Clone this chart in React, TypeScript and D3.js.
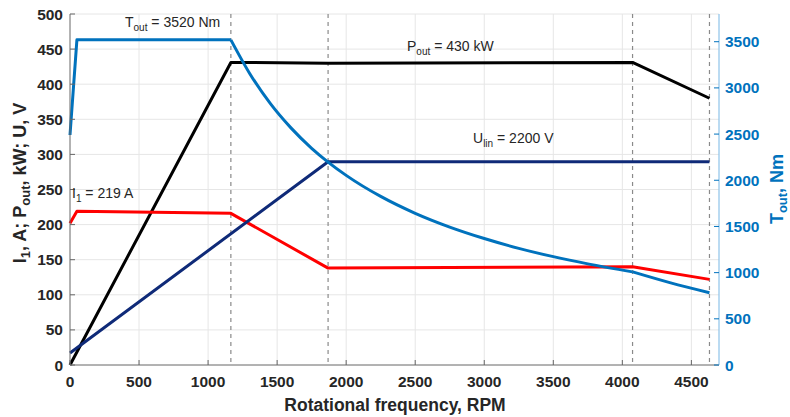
import * as d3 from "d3";

// rotational frequency points (RPM) and the curves
const rpmTorque = [0, 50, 1165, 1300, 1450, 1600, 1750, 1869, 2000, 2250, 2500, 2750, 3000, 3250, 3500, 3750, 4074, 4350, 4631];
const torqueVals = [2490, 3520, 3520, 3159, 2832, 2567, 2346, 2197, 2053, 1825, 1642, 1493, 1369, 1263, 1173, 1095, 1008, 889, 783];

const rpmPower = [0, 1165, 1869, 4074, 4631];
const powerVals = [0, 431, 430, 431, 380];

const rpmCurrent = [0, 50, 1165, 1869, 4074, 4631];
const currentVals = [202, 219, 216, 138, 140, 122];

const rpmVoltage = [0, 1869, 4631];
const voltageVals = [130, 2200, 2200];

const breakPoints = [1165, 1869, 4074, 4631];

const xTicks = [0, 500, 1000, 1500, 2000, 2500, 3000, 3500, 4000, 4500];
const leftTicks = [0, 50, 100, 150, 200, 250, 300, 350, 400, 450, 500];
const rightTicks = [0, 500, 1000, 1500, 2000, 2500, 3000, 3500];

const W = 790;
const H = 417;
const left = 70;
const right = 719;
const top = 14;
const bottom = 365;

const BLUE = "#0072BD";
const font = "'Liberation Sans', Arial, sans-serif";

export default function App() {
  const x = d3.scaleLinear().domain([0, 4700]).range([left, right]);
  const yL = d3.scaleLinear().domain([0, 500]).range([bottom, top]);
  const yR = d3.scaleLinear().domain([0, 3800]).range([bottom, top]);

  const lineL = (xs: number[], ys: number[]) =>
    d3.line<number>().x((d) => x(d)).y((d, i) => yL(ys[i]))(xs) || "";
  const lineR = (xs: number[], ys: number[], curve: d3.CurveFactory = d3.curveLinear) =>
    d3.line<number>().x((d) => x(d)).y((d, i) => yR(ys[i])).curve(curve)(xs) || "";

  // torque: straight until the corner, smooth hyperbola after it, straight tail
  const iCorner = rpmTorque.indexOf(1165);
  const iKnee = rpmTorque.indexOf(4074);
  const torqueHead = lineR(rpmTorque.slice(0, iCorner + 1), torqueVals.slice(0, iCorner + 1));
  const torqueMid = lineR(rpmTorque.slice(iCorner, iKnee + 1), torqueVals.slice(iCorner, iKnee + 1), d3.curveMonotoneX);
  const torqueTail = lineR(rpmTorque.slice(iKnee), torqueVals.slice(iKnee), d3.curveMonotoneX);

  return (
    <svg
      width={W}
      height={H}
      style={{ position: "absolute", left: 0, top: 0, background: "#fff" }}
      fontFamily={font}
    >
      {/* grid */}
      {xTicks.slice(1).map((t) => (
        <line key={"gx" + t} x1={x(t)} x2={x(t)} y1={top} y2={bottom} stroke="#e6e6e6" strokeWidth={1} />
      ))}
      {leftTicks.slice(1).map((t) => (
        <line key={"gy" + t} x1={left} x2={right} y1={yL(t)} y2={yL(t)} stroke="#e6e6e6" strokeWidth={1} />
      ))}

      {/* dashed break lines */}
      {breakPoints.map((b) => (
        <line key={"b" + b} x1={x(b)} x2={x(b)} y1={top} y2={bottom} stroke="#8a8a8a" strokeWidth={1.2} strokeDasharray="4,4" />
      ))}

      {/* curves */}
      <path d={lineL(rpmPower, powerVals)} fill="none" stroke="#000" strokeWidth={3} strokeLinejoin="round" />
      <path d={lineL(rpmCurrent, currentVals)} fill="none" stroke="#FF0000" strokeWidth={3} strokeLinejoin="round" />
      <path d={lineR(rpmVoltage, voltageVals)} fill="none" stroke="#0F2A78" strokeWidth={3} strokeLinejoin="round" />
      <path d={torqueHead} fill="none" stroke={BLUE} strokeWidth={3} strokeLinejoin="round" />
      <path d={torqueMid} fill="none" stroke={BLUE} strokeWidth={3} strokeLinejoin="round" />
      <path d={torqueTail} fill="none" stroke={BLUE} strokeWidth={3} strokeLinejoin="round" />

      {/* axes */}
      <line x1={left} x2={left} y1={top} y2={bottom} stroke="#666" strokeWidth={1} />
      <line x1={left} x2={right} y1={bottom} y2={bottom} stroke="#666" strokeWidth={1} />
      <line x1={right} x2={right} y1={top} y2={bottom} stroke="#8ec3ea" strokeWidth={1.2} />

      {leftTicks.map((t) => (
        <g key={"lt" + t}>
          <line x1={left} x2={left + 5} y1={yL(t)} y2={yL(t)} stroke="#666" />
          <text x={left - 7} y={yL(t) + 5.5} textAnchor="end" fontSize={15.5} fontWeight="bold" fill="#262626">
            {t}
          </text>
        </g>
      ))}
      {xTicks.map((t) => (
        <g key={"xt" + t}>
          <line x1={x(t)} x2={x(t)} y1={bottom} y2={bottom - 5} stroke="#666" />
          <text x={x(t)} y={bottom + 22} textAnchor="middle" fontSize={15.5} fontWeight="bold" fill="#262626">
            {t}
          </text>
        </g>
      ))}
      {rightTicks.map((t) => (
        <g key={"rt" + t}>
          <line x1={right} x2={right - 5} y1={yR(t)} y2={yR(t)} stroke={BLUE} />
          <text x={right + 6} y={yR(t) + 5.5} textAnchor="start" fontSize={15.5} fontWeight="bold" fill={BLUE}>
            {t}
          </text>
        </g>
      ))}

      {/* axis labels */}
      <text x={395} y={411} textAnchor="middle" fontSize={17.5} fontWeight="bold" fill="#262626">
        Rotational frequency, RPM
      </text>
      <text transform="translate(26,183) rotate(-90)" textAnchor="middle" fontSize={18} fontWeight="bold" fill="#262626">
        I<tspan fontSize={13} dy={4}>1</tspan>
        <tspan dy={-4}>, A; P</tspan>
        <tspan fontSize={13} dy={4}>out</tspan>
        <tspan dy={-4}>, kW;  U, V</tspan>
      </text>
      <text transform="translate(783,189) rotate(-90)" textAnchor="middle" fontSize={18} fontWeight="bold" fill={BLUE}>
        T<tspan fontSize={13} dy={4}>out</tspan>
        <tspan dy={-4}>, Nm</tspan>
      </text>

      {/* annotations */}
      <text x={125} y={27} fontSize={14} fill="#262626">
        T<tspan fontSize={10} dy={4}>out</tspan>
        <tspan dy={-4}> = 3520 Nm</tspan>
      </text>
      <text x={407} y={51} fontSize={14} fill="#262626">
        P<tspan fontSize={10} dy={4}>out</tspan>
        <tspan dy={-4}> = 430 kW</tspan>
      </text>
      <text x={473} y={143} fontSize={14} fill="#262626">
        U<tspan fontSize={10} dy={4}>lin</tspan>
        <tspan dy={-4}> = 2200 V</tspan>
      </text>
      <text x={72} y={198} fontSize={14} fill="#262626">
        I<tspan fontSize={10} dy={4}>1</tspan>
        <tspan dy={-4}> = 219 A</tspan>
      </text>
    </svg>
  );
}
